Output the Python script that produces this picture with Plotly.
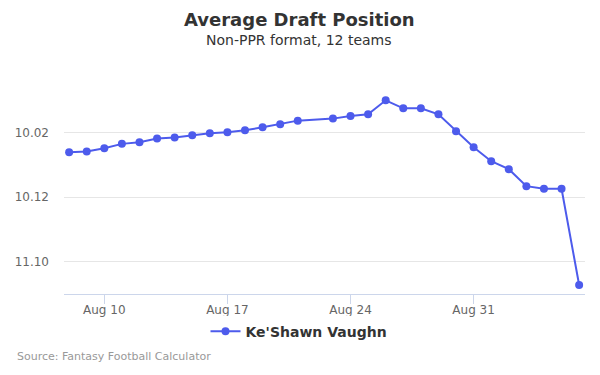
import plotly.graph_objects as go

dates = ["2020-08-08", "2020-08-09", "2020-08-10", "2020-08-11", "2020-08-12", "2020-08-13",
         "2020-08-14", "2020-08-15", "2020-08-16", "2020-08-17", "2020-08-18", "2020-08-19",
         "2020-08-20", "2020-08-21", "2020-08-23", "2020-08-24", "2020-08-25", "2020-08-26",
         "2020-08-27", "2020-08-28", "2020-08-29", "2020-08-30", "2020-08-31", "2020-09-01",
         "2020-09-02", "2020-09-03", "2020-09-04", "2020-09-05", "2020-09-06"]
adp = [113.04, 112.94, 112.43, 111.75, 111.5, 110.93, 110.77, 110.42, 110.11, 109.95,
       109.64, 109.18, 108.72, 108.15, 107.84, 107.42, 107.17, 105.0, 106.24, 106.24,
       107.17, 109.8, 112.27, 114.44, 115.67, 118.3, 118.7, 118.7, 133.6]
y_tickvals = [100, 110, 120, 130]
y_ticktext = ["", "10.02", "10.12", "11.10"]
x_tickvals = ["2020-08-10", "2020-08-17", "2020-08-24", "2020-08-31"]
x_ticktext = ["Aug 10", "Aug 17", "Aug 24", "Aug 31"]
series_name = "Ke'Shawn Vaughn"

color = "#4d5bec"
fig = go.Figure()
fig.add_trace(go.Scatter(
    x=dates, y=adp, mode="lines+markers", name="<b>" + series_name + "</b>",
    line=dict(color=color, width=2), marker=dict(color=color, size=8),
))

center_x = (299 - 64) / 521

fig.update_layout(
    width=592, height=367,
    paper_bgcolor="white", plot_bgcolor="white",
    font=dict(family="DejaVu Sans", color="#333333"),
    margin=dict(l=56, r=15, t=60, b=81, autoexpand=False),
    showlegend=True,
    legend=dict(orientation="h", x=center_x, xanchor="center", y=-0.096, yanchor="top",
                font=dict(size=14, color="#333333", family="DejaVu Sans"),
                itemwidth=30),
    xaxis=dict(
        type="date", range=["2020-08-07 17:00", "2020-09-06 08:00"],
        tickvals=x_tickvals, ticktext=x_ticktext, automargin=False,
        showgrid=False, showline=True, linecolor="#ccd6eb", linewidth=1,
        ticks="outside", tickcolor="#ccd6eb", ticklen=9,
        tickfont=dict(size=12, color="#666666"), zeroline=False,
        ticklabelstandoff=-4,
    ),
    yaxis=dict(
        range=[135, 100], tickvals=y_tickvals, ticktext=y_ticktext, automargin=False,
        showgrid=True, gridcolor="#e6e6e6", gridwidth=1,
        tickfont=dict(size=12, color="#666666"), zeroline=False,
        ticks="", ticklabelstandoff=14,
    ),
)

fig.add_annotation(text="<b>Average Draft Position</b>", xref="paper", yref="paper",
                   x=center_x, xanchor="center", y=1, yanchor="middle", yshift=49,
                   showarrow=False, font=dict(size=18, color="#333333"))
fig.add_annotation(text="Non-PPR format, 12 teams", xref="paper", yref="paper",
                   x=center_x, xanchor="center", y=1, yanchor="middle", yshift=28,
                   showarrow=False, font=dict(size=14, color="#333333"))
fig.add_annotation(text="Source: Fantasy Football Calculator", xref="paper", yref="paper",
                   x=0, xanchor="left", xshift=-49, y=0, yanchor="middle", yshift=-62,
                   showarrow=False, font=dict(size=11, color="#999999"))

fig.write_html("out.html")
